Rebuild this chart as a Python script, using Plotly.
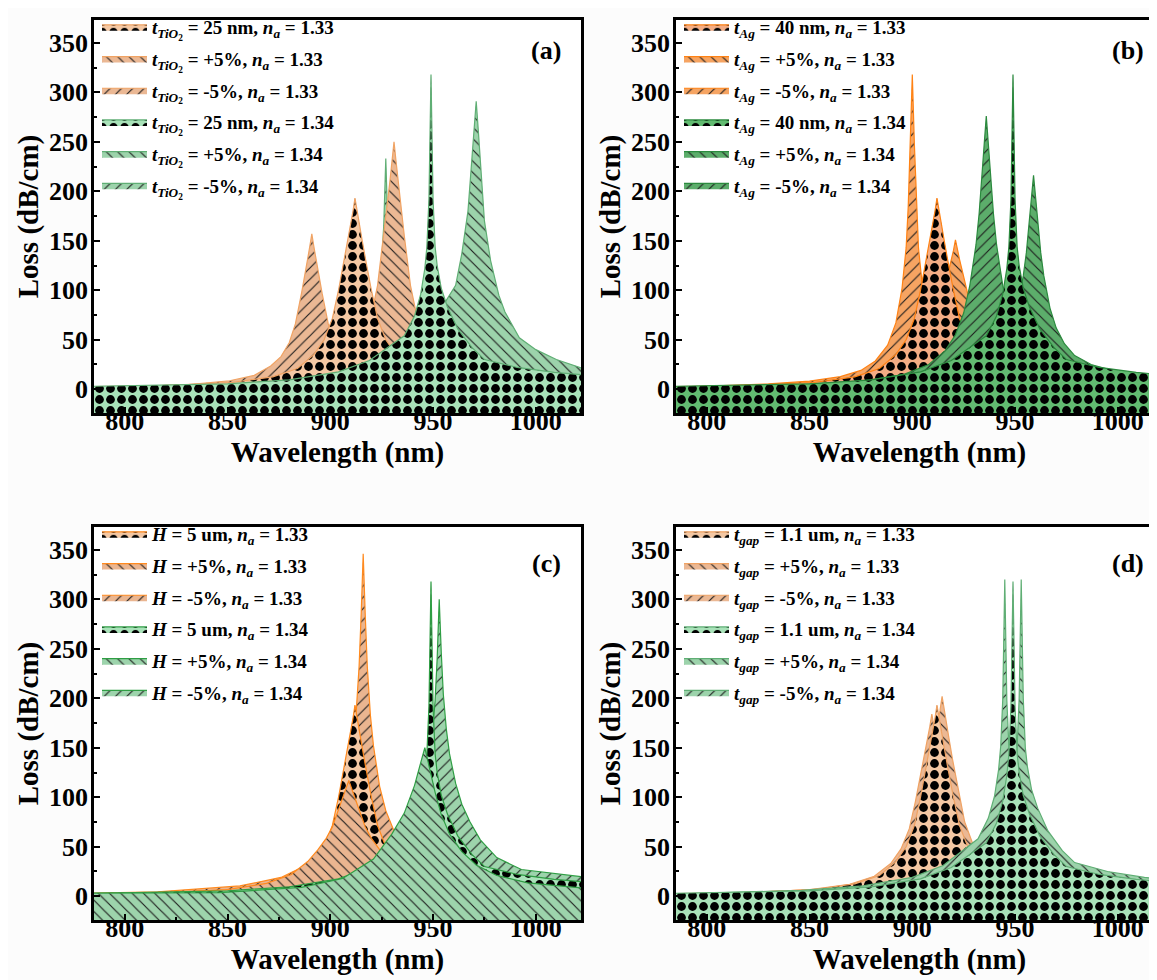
import plotly.graph_objects as go

# ---------------- axes / labels ----------------
X_RANGE = [785, 1022]
Y_RANGE = [-24, 373]
X_TICKS = [800, 850, 900, 950, 1000]
Y_TICKS = [0, 50, 100, 150, 200, 250, 300, 350]
PANEL_LABELS = ["(a)", "(b)", "(c)", "(d)"]
PARAM_NAMES = ["<i>t</i><sub><i>TiO</i><sub>2</sub></sub>", "<i>t</i><sub><i>Ag</i></sub>",
               "<i>H</i>", "<i>t</i><sub><i>gap</i></sub>"]
BASE_VALUES = ["25 nm", "40 nm", "5 um", "1.1 um"]
NA_VALUES = ["1.33", "1.34"]

# ---------------- data (wavelength nm, loss dB/cm) ----------------
# nominal design, n_a = 1.33 (same in all panels)
BASE_133_X = [785, 812, 852, 872, 884, 892, 897, 901, 904, 907, 908.5, 910, 911, 912, 913, 914, 915.5,
              917, 920, 923, 927, 932, 940, 952, 972, 1012, 1023]
BASE_133_Y = [2.6, 3.2, 6.8, 12.5, 21, 35, 50, 71.5, 100, 133, 150.5, 168, 179.5, 193, 179.5, 168, 150.5,
              133, 100, 71.5, 50, 35, 21, 12.5, 6.8, 3.2, 2.8]
# nominal design, n_a = 1.34 (same in all panels)
BASE_134_X = [785, 820, 850, 880, 904, 919, 930, 936, 941, 944, 946, 947, 948, 949, 950, 951, 952, 954,
              957, 962, 969, 975, 991, 1009, 1023]
BASE_134_Y = [3, 4, 5.5, 9.5, 17.5, 29, 45, 54, 74, 96, 122, 144, 192, 318, 192, 144, 125, 102,
              83, 61, 42, 30, 22, 17, 14.5]

# (a) TiO2 thickness
A_P5_133_X = [785, 831, 871, 891, 903, 911, 916, 920, 923, 926, 927.5, 929, 930, 931, 932, 933, 934.5,
              936, 939, 942, 946, 951, 959, 971, 991, 1023]
A_P5_133_Y = [2, 3.3, 7.5, 13.8, 22.5, 37.5, 52.5, 75, 105, 155, 180, 210, 230, 250, 230, 210, 180,
              155, 105, 75, 52.5, 37.5, 22.5, 13.8, 7.5, 4]
A_M5_133_X = [785, 791, 831, 851, 863, 871, 876, 880, 883, 886, 887.5, 889, 890, 891, 892, 893, 894.5,
              896, 899, 902, 906, 911, 919, 931, 951, 991, 1023]
A_M5_133_Y = [1.5, 2, 4.7, 8.6, 14, 23.5, 33, 47, 66, 97, 113, 132, 144, 157, 144, 132, 113,
              97, 66, 47, 33, 23.5, 14, 8.6, 4.7, 2, 1.5]
A_P5_134_X = [785, 830, 870, 900, 920, 935, 945, 955, 961, 964, 967, 969, 970, 971, 972, 973, 975,
              978, 982, 985, 992, 1000, 1010, 1023]
A_P5_134_Y = [2, 4, 8, 14, 24, 40, 58, 85, 105, 137, 180, 233, 262, 291, 262, 233, 170,
              130, 95, 78, 52, 40, 30, 21]
A_M5_134_X = [785, 830, 870, 895, 910, 918, 922, 924, 925, 926, 927, 928, 929, 930, 932, 936, 942,
              952, 970, 1000, 1023]
A_M5_134_Y = [1.5, 3, 7, 14, 30, 52, 80, 105, 130, 165, 233, 165, 130, 108, 85, 62, 44,
              30, 20, 12, 9]

# (b) Ag thickness
B_P5_133_X = [785, 821, 861, 881, 893, 901, 906, 910, 913, 916, 917.5, 919, 920, 921, 922, 923, 924.5,
              926, 929, 932, 936, 941, 949, 961, 981, 1021, 1023]
B_P5_133_Y = [1.6, 2.3, 5.3, 9.8, 16.6, 27, 39, 56, 78.5, 104, 118, 131, 140, 151, 140, 131, 118,
              104, 78.5, 56, 39, 27, 16.6, 9.8, 5.3, 2.3, 2.2]
B_M5_133_X = [785, 800, 830, 850, 865, 875, 882, 888, 892, 895, 897, 898, 899, 900, 901, 902, 903,
              905, 908, 912, 918, 925, 935, 950, 970, 1000, 1023]
B_M5_133_Y = [2, 3.2, 5.4, 8.3, 12.7, 19, 28.6, 44.5, 67, 102, 143, 184, 248, 318, 248, 184, 143,
              102, 67, 44.5, 28.6, 19, 12.7, 8.3, 5.4, 3.2, 2.5]
B_P5_134_X = [785, 859, 899, 919, 931, 939, 944, 948, 951, 954, 955.5, 957, 958, 959, 960, 961, 962.5,
              964, 967, 970, 974, 979, 987, 999, 1023]
B_P5_134_Y = [1.3, 2.8, 6.5, 12, 19.5, 30, 43, 60.5, 82, 114.5, 138, 168, 194, 216, 194, 168, 138,
              114.5, 82, 62, 46, 34, 25, 18, 13]
B_M5_134_X = [785, 836, 876, 896, 908, 916, 921, 925, 928, 931, 932.5, 934, 935, 936, 937, 938, 939.5,
              941, 944, 947, 951, 956, 964, 976, 996, 1023]
B_M5_134_Y = [1.7, 3.6, 8.3, 15, 25, 39, 55, 77, 105, 146, 177, 215, 248, 276, 248, 215, 177,
              146, 105, 77, 55, 39, 25, 17, 12, 10]

# (c) H
C_P5_133_X = [785, 809, 849, 869, 881, 889, 894, 898, 901, 904, 907, 909, 911, 914, 917, 920, 924,
              929, 937, 949, 969, 1009, 1023]
C_P5_133_Y = [1.6, 2.3, 6.4, 13, 22, 35, 47, 58.5, 70, 88, 105, 117, 105, 88, 70, 58.5, 47,
              35, 22, 13, 6.4, 2.3, 2]
C_M5_133_X = [785, 816, 856, 876, 888, 896, 901, 905, 908, 911, 912.5, 914, 915, 916, 917, 918, 919.5,
              921, 924, 927, 931, 936, 944, 956, 976, 1016, 1023]
C_M5_133_Y = [3.1, 4.5, 10.4, 19, 31, 48.4, 66, 86.5, 111, 152, 183, 232, 284, 346, 284, 232, 183,
              152, 111, 86.5, 66, 48.4, 31, 19, 10.4, 4.5, 4]
C_P5_134_X = [785, 846, 886, 906, 921, 930, 936, 941, 944, 946, 948, 951, 954, 958, 964, 971, 981,
              996, 1023]
C_P5_134_Y = [3.2, 3.6, 9, 18, 37.5, 63, 84, 112, 135, 150, 132, 105, 82.5, 63, 45, 31.5, 21,
              13.5, 8.3]
C_M5_134_X = [785, 853, 893, 913, 925, 933, 938, 942, 945, 948, 949.5, 951, 952, 953, 954, 955, 956.5,
              958, 961, 964, 968, 973, 981, 993, 1023]
C_M5_134_Y = [1.8, 3.9, 9, 18, 30, 45, 60, 78, 99, 135, 159, 198, 240, 300, 246, 204, 168,
              144, 114, 93, 75, 57, 39, 27, 19.5]

# (d) t_gap
D_P5_133_X = [785, 814.5, 854.5, 874.5, 886.5, 894.5, 899.5, 903.5, 906.5, 909.5, 911, 912.5, 913.5, 914.5,
              915.5, 916.5, 918, 919.5, 922.5, 925.5, 929.5, 934.5, 942.5, 954.5, 974.5, 1014.5, 1023]
D_P5_133_Y = [2.2, 3, 7.1, 13.1, 22.2, 36.4, 52.5, 75, 105, 139, 157.5, 176, 188, 202,
              188, 176, 157.5, 139, 105, 75, 52.5, 36.4, 22.2, 13.1, 7.1, 3, 2.8]
D_M5_133_X = [785, 809.5, 849.5, 869.5, 881.5, 889.5, 894.5, 898.5, 901.5, 904.5, 906, 907.5, 908.5, 909.5,
              910.5, 911.5, 913, 914.5, 917.5, 920.5, 924.5, 929.5, 937.5, 949.5, 969.5, 1009.5, 1023]
D_M5_133_Y = [2.1, 2.8, 6.4, 12, 20.2, 33, 47.8, 68, 95.7, 127, 143.5, 160, 171, 184,
              171, 160, 143.5, 127, 95.7, 68, 47.8, 33, 20.2, 12, 6.4, 2.8, 2.5]
D_P5_134_X = [785, 824, 854, 884, 908, 923, 934, 940, 945, 948, 950, 951, 952, 953, 954, 955, 956, 958,
              961, 966, 973, 979, 995, 1013, 1023]
D_P5_134_Y = [2, 4, 5.5, 9.5, 17.5, 29, 45, 55, 76, 99, 126, 150, 200, 320, 200, 150, 131, 108,
              89, 66, 46, 34, 25, 19, 17]
D_M5_134_X = [785, 816, 846, 876, 900, 915, 926, 932, 937, 940, 942, 943, 944, 945, 946, 947, 948, 950,
              953, 958, 965, 971, 987, 1005, 1023]
D_M5_134_Y = [2.2, 4.3, 6, 10.5, 19, 31, 48, 58, 79, 101, 128, 151, 198, 320, 198, 151, 131, 107,
              87, 64, 44, 32, 23, 18, 15]

# ---------------- styling ----------------
FONT = "Liberation Serif, Times New Roman, serif"
W, H = 1157, 980
# plot boxes in pixels: (left, right, top, bottom)
BOXES = [(86, 573, 12, 405), (668, 1155, 12, 405), (86, 573, 519, 912), (668, 1155, 519, 912)]

SOFT = dict(o_fill="#ebb894", o_line="#f0a364", o_chk="#f4c8a4",
            g_fill="#9cd3ab", g_line="#5fae74", g_chk="#a9e2b9")
VIVID = dict(o_fill="#f6a462", o_line="#ff8214", o_chk="#f3ad85",
             g_fill="#5cad6b", g_line="#2b8a3e", g_chk="#62bb71")
BRIGHT_EDGE = dict(o_fill="#eab590", o_line="#ff8a1f", o_chk="#f4c8a4",
                   g_fill="#9dd4ac", g_line="#2f9e44", g_chk="#a9e2b9")
PALETTES = [SOFT, VIVID, BRIGHT_EDGE, SOFT]

DATA = [
    {"base133": (BASE_133_X, BASE_133_Y), "p5_133": (A_P5_133_X, A_P5_133_Y), "m5_133": (A_M5_133_X, A_M5_133_Y),
     "base134": (BASE_134_X, BASE_134_Y), "p5_134": (A_P5_134_X, A_P5_134_Y), "m5_134": (A_M5_134_X, A_M5_134_Y)},
    {"base133": (BASE_133_X, BASE_133_Y), "p5_133": (B_P5_133_X, B_P5_133_Y), "m5_133": (B_M5_133_X, B_M5_133_Y),
     "base134": (BASE_134_X, BASE_134_Y), "p5_134": (B_P5_134_X, B_P5_134_Y), "m5_134": (B_M5_134_X, B_M5_134_Y)},
    {"base133": (BASE_133_X, BASE_133_Y), "p5_133": (C_P5_133_X, C_P5_133_Y), "m5_133": (C_M5_133_X, C_M5_133_Y),
     "base134": (BASE_134_X, BASE_134_Y), "p5_134": (C_P5_134_X, C_P5_134_Y), "m5_134": (C_M5_134_X, C_M5_134_Y)},
    {"base133": (BASE_133_X, BASE_133_Y), "p5_133": (D_P5_133_X, D_P5_133_Y), "m5_133": (D_M5_133_X, D_M5_133_Y),
     "base134": (BASE_134_X, BASE_134_Y), "p5_134": (D_P5_134_X, D_P5_134_Y), "m5_134": (D_M5_134_X, D_M5_134_Y)},
]
LEGEND_ORDER = ["base133", "p5_133", "m5_133", "base134", "p5_134", "m5_134"]
DRAW_ORDER = [
    ["m5_134", "p5_134", "m5_133", "p5_133", "base133", "base134"],
    ["p5_133", "m5_133", "base133", "p5_134", "m5_134", "base134"],
    ["m5_133", "base133", "p5_133", "m5_134", "base134", "p5_134"],
    ["m5_133", "p5_133", "base133", "m5_134", "p5_134", "base134"],
]
LABEL_POS = [(538, 43), (1120, 43), (538, 555), (1120, 555)]

Y_FLOOR = Y_RANGE[0] - 3


def series_style(key, pal):
    orange = key.endswith("133")
    line = pal["o_line"] if orange else pal["g_line"]
    if key.startswith("base"):
        bg = pal["o_chk"] if orange else pal["g_chk"]
        pattern = dict(shape=".", size=11, solidity=0.5, fgcolor="#000000", bgcolor=bg, fillmode="replace")
        fill = bg
    else:
        fill = pal["o_fill"] if orange else pal["g_fill"]
        shape = "\\" if key.startswith("p5") else "/"
        pattern = dict(shape=shape, size=8, solidity=0.14, fgcolor="#1c1c1c", bgcolor=fill, fillmode="replace")
    return line, fill, pattern


def label_for(p, key):
    if key.startswith("base"):
        val = BASE_VALUES[p]
    elif key.startswith("p5"):
        val = "+5%"
    else:
        val = "-5%"
    na = NA_VALUES[0] if key.endswith("133") else NA_VALUES[1]
    return f"{PARAM_NAMES[p]} = {val}, <i>n</i><sub><i>a</i></sub> = {na}"


fig = go.Figure()
layout = dict(width=W, height=H, margin=dict(l=0, r=0, t=0, b=0),
              paper_bgcolor="#fcfcfc", plot_bgcolor="#ffffff", showlegend=True,
              font=dict(family=FONT, color="black"))
annotations = []

for p in range(4):
    sfx = "" if p == 0 else str(p + 1)
    xa, ya = "x" + sfx, "y" + sfx
    leg = "legend" + sfx
    pal = PALETTES[p]
    for key in DRAW_ORDER[p]:
        xs, ys = DATA[p][key]
        line, fill, pattern = series_style(key, pal)
        fig.add_trace(go.Scatter(
            x=list(xs) + [xs[-1], xs[0]], y=list(ys) + [Y_FLOOR, Y_FLOOR],
            mode="lines", fill="toself", fillcolor=fill, fillpattern=pattern,
            line=dict(color=line, width=1.2), name=label_for(p, key),
            legend=leg, legendrank=LEGEND_ORDER.index(key) + 1, legendgroup=f"{p}{key}",
            xaxis=xa, yaxis=ya, hoverinfo="skip"))

    l, r, t, b = BOXES[p]
    xdom = [l / W, r / W]
    ydom = [1 - b / H, 1 - t / H]
    axis_common = dict(showline=True, linewidth=2.5, linecolor="black", mirror=True,
                       ticks="inside", ticklen=6, tickwidth=2, tickcolor="black",
                       showgrid=False, zeroline=False,
                       tickfont=dict(family=FONT, size=26, weight="bold"))
    layout["xaxis" + sfx] = dict(axis_common, domain=xdom, range=X_RANGE, tickvals=X_TICKS,
                                 anchor=ya, ticklabelstandoff=-17,
                                 minor=dict(dtick=25, tick0=775, ticklen=3, tickwidth=1.5, ticks="inside"),
                                 title=dict(text="Wavelength (nm)", standoff=0,
                                            font=dict(family=FONT, size=29, weight="bold")))
    layout["yaxis" + sfx] = dict(axis_common, domain=ydom, range=Y_RANGE, tickvals=Y_TICKS,
                                 anchor=xa, ticklabelstandoff=-2,
                                 minor=dict(dtick=25, tick0=25, ticklen=3, tickwidth=1.5, ticks="inside"),
                                 title=dict(text="Loss (dB/cm)", standoff=2,
                                            font=dict(family=FONT, size=29, weight="bold")))
    layout[leg] = dict(x=(l + 3) / W, y=1 - (t - 12) / H, xanchor="left", yanchor="top",
                       bgcolor="rgba(0,0,0,0)", borderwidth=0, itemwidth=45,
                       tracegroupgap=4, traceorder="grouped",
                       font=dict(family=FONT, size=19, weight="bold", color="black"))
    lx, lyy = LABEL_POS[p]
    annotations.append(dict(text=PANEL_LABELS[p], xref="paper", yref="paper",
                            x=lx / W, y=1 - lyy / H, xanchor="center", yanchor="middle",
                            showarrow=False, font=dict(family=FONT, size=26, weight="bold")))

layout["annotations"] = annotations
fig.update_layout(**layout)
fig.write_html("out.html")
